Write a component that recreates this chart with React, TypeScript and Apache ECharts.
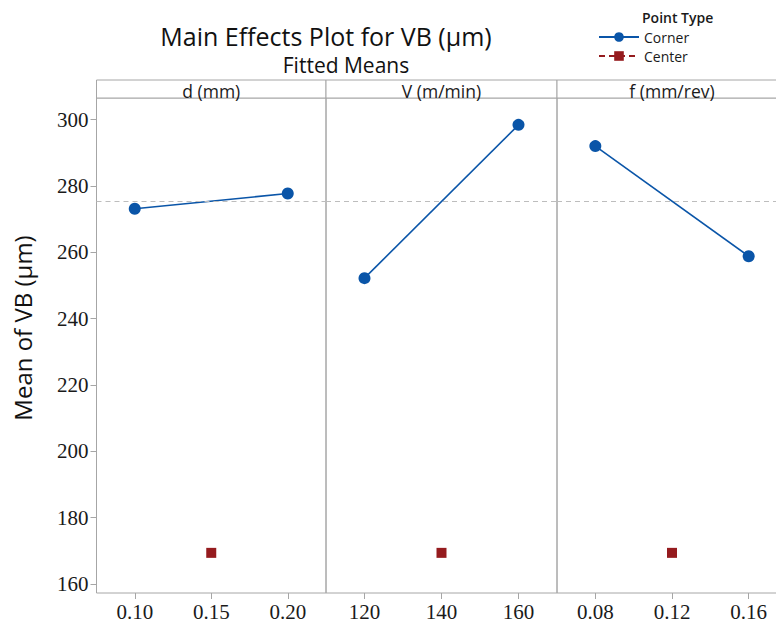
import React, { useEffect, useRef } from "react";
import * as echarts from "echarts";

const panelTitles = ["d (mm)", "V (m/min)", "f (mm/rev)"];
const cornerLevels = [
  [0.1, 0.2],
  [120, 160],
  [0.08, 0.16],
];
const cornerMeans = [
  [273.1, 277.7],
  [252.2, 298.4],
  [292.0, 258.8],
];
const centerLevels = [0.15, 140, 0.12];
const centerMean = 169.4;
const overallMean = 275.3;
const xTicks = [
  [0.1, 0.15, 0.2],
  [120, 140, 160],
  [0.08, 0.12, 0.16],
];
const xRanges = [
  [0.075, 0.225],
  [110, 170],
  [0.06, 0.18],
];
const yTicks = [160, 180, 200, 220, 240, 260, 280, 300];
const yRange = [157.3, 306.5];

const SANS = "'Open Sans', 'Noto Sans', sans-serif";
const SERIF = "'Liberation Serif', 'DejaVu Serif', serif";
const GREY = "#a6a6a6";
const BLUE = "#0a55a8";
const RED = "#951b1e";

export default function App() {
  const ref = useRef<HTMLDivElement>(null);
  useEffect(() => {
    document.body.style.margin = "0";
    document.body.style.overflow = "hidden";
    if (!ref.current) return;
    const chart = echarts.init(ref.current, null, { renderer: "svg" });
    const L = [96.5, 326, 557];
    const W = [229.5, 231, 230];
    const top = 98;
    const bottom = 593;
    const grids = L.map((l, i) => ({
      left: l,
      top,
      width: W[i],
      height: bottom - top,
      show: true,
      borderColor: GREY,
      borderWidth: 1,
      backgroundColor: "transparent",
    }));
    const xAxes = L.map((_, i) => ({
      gridIndex: i,
      type: "value",
      min: xRanges[i][0],
      max: xRanges[i][1],
      axisLine: { show: false },
      splitLine: { show: false },
      axisTick: {
        show: true,
        customValues: xTicks[i],
        length: 6,
        lineStyle: { color: GREY },
      },
      axisLabel: {
        customValues: xTicks[i],
        formatter: (v: number) => (i === 1 ? String(v) : v.toFixed(2)),
        fontFamily: SERIF,
        fontSize: 21,
        color: "#1a1a1a",
        margin: 8,
      },
    }));
    const yAxes = L.map((_, i) => ({
      gridIndex: i,
      type: "value",
      min: yRange[0],
      max: yRange[1],
      axisLine: { show: false },
      splitLine: { show: false },
      axisTick: {
        show: i === 0,
        customValues: yTicks,
        length: 6,
        lineStyle: { color: GREY },
      },
      axisLabel: {
        show: i === 0,
        customValues: yTicks,
        fontFamily: SERIF,
        fontSize: 21,
        color: "#1a1a1a",
        margin: 8,
      },
    }));
    const series: any[] = [];
    L.forEach((_, i) => {
      series.push({
        name: "Corner",
        type: "line",
        xAxisIndex: i,
        yAxisIndex: i,
        data: cornerLevels[i].map((x, j) => [x, cornerMeans[i][j]]),
        symbol: "circle",
        symbolSize: 12,
        itemStyle: { color: BLUE },
        lineStyle: { color: BLUE, width: 1.6 },
        markLine: {
          silent: true,
          symbol: "none",
          label: { show: false },
          lineStyle: { color: "#bdbdbd", type: [5, 4], width: 1.2 },
          data: [{ yAxis: overallMean }],
        },
        z: 3,
      });
      series.push({
        name: "Center",
        type: "line",
        xAxisIndex: i,
        yAxisIndex: i,
        data: [[centerLevels[i], centerMean]],
        symbol: "rect",
        symbolSize: [10, 10],
        showSymbol: true,
        itemStyle: { color: RED },
        lineStyle: { color: RED, type: [6, 4], width: 2 },
        z: 3,
      });
    });
    const graphics: any[] = [];
    L.forEach((l, i) => {
      graphics.push({
        type: "rect",
        shape: { x: l, y: 80, width: W[i], height: 18 },
        style: { fill: "#fff", stroke: GREY, lineWidth: 1 },
      });
      graphics.push({
        type: "text",
        x: l + W[i] / 2,
        y: 90.5,
        style: {
          text: panelTitles[i],
          font: `17.5px ${SANS}`,
          fill: "#1a1a1a",
          textAlign: "center",
          textVerticalAlign: "middle",
        },
      });
    });
    graphics.push(
      {
        type: "text",
        x: 326,
        y: 36,
        style: {
          text: "Main Effects Plot for VB (µm)",
          font: `500 25px ${SANS}`,
          fill: "#111",
          textAlign: "center",
          textVerticalAlign: "middle",
        },
      },
      {
        type: "text",
        x: 346,
        y: 65,
        style: {
          text: "Fitted Means",
          font: `21px ${SANS}`,
          fill: "#111",
          textAlign: "center",
          textVerticalAlign: "middle",
        },
      },
      {
        type: "text",
        x: 22,
        y: 328,
        rotation: Math.PI / 2,
        style: {
          text: "Mean of VB (µm)",
          font: `500 24px ${SANS}`,
          fill: "#111",
          textAlign: "center",
          textVerticalAlign: "middle",
        },
      },
      {
        type: "text",
        x: 642,
        y: 17,
        style: {
          text: "Point Type",
          font: `600 14px ${SANS}`,
          fill: "#1a1a1a",
          textAlign: "left",
          textVerticalAlign: "middle",
        },
      }
    );
    chart.setOption({
      animation: false,
      grid: grids,
      xAxis: xAxes,
      yAxis: yAxes,
      series,
      legend: {
        data: ["Corner", "Center"],
        orient: "vertical",
        left: 593,
        top: 25,
        itemWidth: 40,
        itemHeight: 12,
        itemGap: 5,
        textStyle: { fontFamily: SANS, fontSize: 14, color: "#1a1a1a" },
      },
      graphic: graphics,
    });
    return () => chart.dispose();
  }, []);
  return <div ref={ref} style={{ width: 790, height: 623 }} />;
}
